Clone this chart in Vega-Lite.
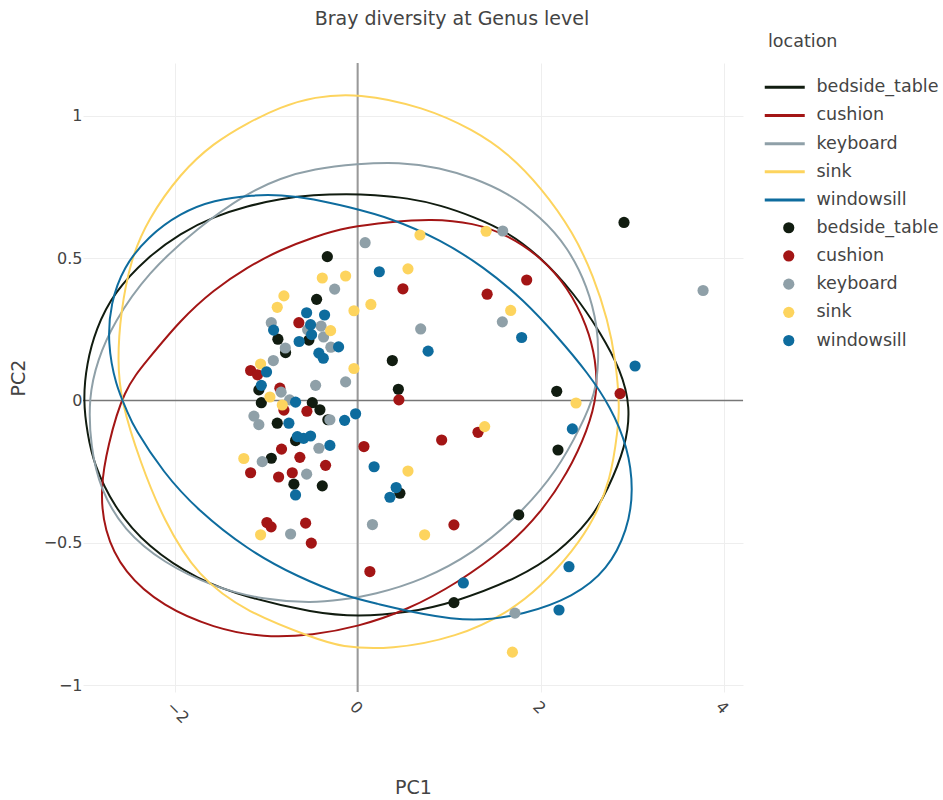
{
  "$schema": "https://vega.github.io/schema/vega-lite/v6.json",
  "width": 660,
  "height": 629,
  "autosize": "none",
  "padding": {"left": 83, "top": 63, "right": 200, "bottom": 108},
  "background": "white",
  "title": {"text": "Bray diversity at Genus level", "font": "DejaVu Sans", "fontSize": 19, "fontWeight": "normal", "color": "#444444", "anchor": "middle", "frame": "group", "dx": 39, "offset": 4},
  "config": {"view": {"stroke": null}, "font": "DejaVu Sans"},
  "datasets": {
    "pts": [
      {"location": "bedside_table", "PC1": -0.331, "PC2": 0.505},
      {"location": "bedside_table", "PC1": -0.448, "PC2": 0.355},
      {"location": "bedside_table", "PC1": -0.871, "PC2": 0.215},
      {"location": "bedside_table", "PC1": -0.532, "PC2": 0.212},
      {"location": "bedside_table", "PC1": -0.787, "PC2": 0.168},
      {"location": "bedside_table", "PC1": -1.079, "PC2": 0.037},
      {"location": "bedside_table", "PC1": -1.052, "PC2": -0.008},
      {"location": "bedside_table", "PC1": -0.495, "PC2": -0.008},
      {"location": "bedside_table", "PC1": -0.412, "PC2": -0.033},
      {"location": "bedside_table", "PC1": -0.878, "PC2": -0.08},
      {"location": "bedside_table", "PC1": -0.325, "PC2": -0.068},
      {"location": "bedside_table", "PC1": -0.678, "PC2": -0.141},
      {"location": "bedside_table", "PC1": -0.943, "PC2": -0.203},
      {"location": "bedside_table", "PC1": -0.696, "PC2": -0.294},
      {"location": "bedside_table", "PC1": -0.386, "PC2": -0.3},
      {"location": "bedside_table", "PC1": 0.379, "PC2": 0.14},
      {"location": "bedside_table", "PC1": 0.445, "PC2": 0.039},
      {"location": "bedside_table", "PC1": 0.462, "PC2": -0.326},
      {"location": "bedside_table", "PC1": 2.175, "PC2": 0.032},
      {"location": "bedside_table", "PC1": 2.189, "PC2": -0.174},
      {"location": "bedside_table", "PC1": 1.76, "PC2": -0.402},
      {"location": "bedside_table", "PC1": 1.052, "PC2": -0.71},
      {"location": "bedside_table", "PC1": 2.91, "PC2": 0.625},
      {"location": "cushion", "PC1": -0.642, "PC2": 0.273},
      {"location": "cushion", "PC1": -1.169, "PC2": 0.105},
      {"location": "cushion", "PC1": -1.093, "PC2": 0.09},
      {"location": "cushion", "PC1": -0.849, "PC2": 0.043},
      {"location": "cushion", "PC1": -0.805, "PC2": -0.034},
      {"location": "cushion", "PC1": -0.554, "PC2": -0.038},
      {"location": "cushion", "PC1": -0.831, "PC2": -0.171},
      {"location": "cushion", "PC1": -0.631, "PC2": -0.2},
      {"location": "cushion", "PC1": -0.35, "PC2": -0.228},
      {"location": "cushion", "PC1": -1.169, "PC2": -0.254},
      {"location": "cushion", "PC1": -0.863, "PC2": -0.269},
      {"location": "cushion", "PC1": -0.714, "PC2": -0.254},
      {"location": "cushion", "PC1": -0.991, "PC2": -0.429},
      {"location": "cushion", "PC1": -0.945, "PC2": -0.444},
      {"location": "cushion", "PC1": -0.568, "PC2": -0.431},
      {"location": "cushion", "PC1": -0.506, "PC2": -0.501},
      {"location": "cushion", "PC1": 0.069, "PC2": -0.162},
      {"location": "cushion", "PC1": 0.134, "PC2": -0.601},
      {"location": "cushion", "PC1": 0.495, "PC2": 0.392},
      {"location": "cushion", "PC1": 0.451, "PC2": 0.002},
      {"location": "cushion", "PC1": 1.415, "PC2": 0.373},
      {"location": "cushion", "PC1": 1.847, "PC2": 0.423},
      {"location": "cushion", "PC1": 0.918, "PC2": -0.139},
      {"location": "cushion", "PC1": 1.315, "PC2": -0.112},
      {"location": "cushion", "PC1": 1.052, "PC2": -0.437},
      {"location": "cushion", "PC1": 2.867, "PC2": 0.024},
      {"location": "keyboard", "PC1": 0.082, "PC2": 0.554},
      {"location": "keyboard", "PC1": -0.251, "PC2": 0.391},
      {"location": "keyboard", "PC1": -0.943, "PC2": 0.273},
      {"location": "keyboard", "PC1": -0.399, "PC2": 0.261},
      {"location": "keyboard", "PC1": -0.546, "PC2": 0.248},
      {"location": "keyboard", "PC1": -0.372, "PC2": 0.223},
      {"location": "keyboard", "PC1": -0.292, "PC2": 0.187},
      {"location": "keyboard", "PC1": -0.79, "PC2": 0.184},
      {"location": "keyboard", "PC1": -0.921, "PC2": 0.14},
      {"location": "keyboard", "PC1": -0.131, "PC2": 0.065},
      {"location": "keyboard", "PC1": -0.459, "PC2": 0.053},
      {"location": "keyboard", "PC1": -0.836, "PC2": 0.029},
      {"location": "keyboard", "PC1": -0.743, "PC2": 0.002},
      {"location": "keyboard", "PC1": -1.133, "PC2": -0.055},
      {"location": "keyboard", "PC1": -1.079, "PC2": -0.085},
      {"location": "keyboard", "PC1": -0.303, "PC2": -0.068},
      {"location": "keyboard", "PC1": -0.423, "PC2": -0.168},
      {"location": "keyboard", "PC1": -1.042, "PC2": -0.215},
      {"location": "keyboard", "PC1": -0.557, "PC2": -0.259},
      {"location": "keyboard", "PC1": -0.732, "PC2": -0.469},
      {"location": "keyboard", "PC1": 0.162, "PC2": -0.436},
      {"location": "keyboard", "PC1": 0.689, "PC2": 0.251},
      {"location": "keyboard", "PC1": 1.581, "PC2": 0.276},
      {"location": "keyboard", "PC1": 1.585, "PC2": 0.595},
      {"location": "keyboard", "PC1": 3.774, "PC2": 0.386},
      {"location": "keyboard", "PC1": 1.719, "PC2": -0.747},
      {"location": "sink", "PC1": -0.386, "PC2": 0.43},
      {"location": "sink", "PC1": -0.131, "PC2": 0.437},
      {"location": "sink", "PC1": -0.805, "PC2": 0.367},
      {"location": "sink", "PC1": -0.878, "PC2": 0.327},
      {"location": "sink", "PC1": -0.04, "PC2": 0.315},
      {"location": "sink", "PC1": 0.145, "PC2": 0.337},
      {"location": "sink", "PC1": -0.295, "PC2": 0.245},
      {"location": "sink", "PC1": -0.04, "PC2": 0.112},
      {"location": "sink", "PC1": -1.06, "PC2": 0.128},
      {"location": "sink", "PC1": -0.958, "PC2": 0.012},
      {"location": "sink", "PC1": -0.823, "PC2": -0.016},
      {"location": "sink", "PC1": -1.243, "PC2": -0.204},
      {"location": "sink", "PC1": -1.06, "PC2": -0.472},
      {"location": "sink", "PC1": 0.681, "PC2": 0.581},
      {"location": "sink", "PC1": 1.404, "PC2": 0.594},
      {"location": "sink", "PC1": 0.55, "PC2": 0.462},
      {"location": "sink", "PC1": 1.672, "PC2": 0.316},
      {"location": "sink", "PC1": 2.386, "PC2": -0.009},
      {"location": "sink", "PC1": 1.388, "PC2": -0.092},
      {"location": "sink", "PC1": 0.55, "PC2": -0.248},
      {"location": "sink", "PC1": 0.732, "PC2": -0.472},
      {"location": "sink", "PC1": 1.691, "PC2": -0.884},
      {"location": "windowsill", "PC1": 0.237, "PC2": 0.452},
      {"location": "windowsill", "PC1": -0.557, "PC2": 0.308},
      {"location": "windowsill", "PC1": -0.361, "PC2": 0.3},
      {"location": "windowsill", "PC1": -0.514, "PC2": 0.266},
      {"location": "windowsill", "PC1": -0.918, "PC2": 0.247},
      {"location": "windowsill", "PC1": -0.503, "PC2": 0.231},
      {"location": "windowsill", "PC1": -0.639, "PC2": 0.207},
      {"location": "windowsill", "PC1": -0.208, "PC2": 0.188},
      {"location": "windowsill", "PC1": -0.423, "PC2": 0.166},
      {"location": "windowsill", "PC1": -0.375, "PC2": 0.148},
      {"location": "windowsill", "PC1": -0.995, "PC2": 0.1},
      {"location": "windowsill", "PC1": -1.052, "PC2": 0.053},
      {"location": "windowsill", "PC1": -0.678, "PC2": -0.006},
      {"location": "windowsill", "PC1": -0.751, "PC2": -0.08},
      {"location": "windowsill", "PC1": -0.142, "PC2": -0.07},
      {"location": "windowsill", "PC1": -0.022, "PC2": -0.047},
      {"location": "windowsill", "PC1": -0.659, "PC2": -0.127},
      {"location": "windowsill", "PC1": -0.59, "PC2": -0.133},
      {"location": "windowsill", "PC1": -0.514, "PC2": -0.125},
      {"location": "windowsill", "PC1": -0.303, "PC2": -0.158},
      {"location": "windowsill", "PC1": -0.678, "PC2": -0.332},
      {"location": "windowsill", "PC1": 0.18, "PC2": -0.233},
      {"location": "windowsill", "PC1": 0.77, "PC2": 0.173},
      {"location": "windowsill", "PC1": 1.792, "PC2": 0.221},
      {"location": "windowsill", "PC1": 3.031, "PC2": 0.121},
      {"location": "windowsill", "PC1": 2.346, "PC2": -0.1},
      {"location": "windowsill", "PC1": 0.421, "PC2": -0.306},
      {"location": "windowsill", "PC1": 0.353, "PC2": -0.34},
      {"location": "windowsill", "PC1": 1.155, "PC2": -0.641},
      {"location": "windowsill", "PC1": 2.309, "PC2": -0.584},
      {"location": "windowsill", "PC1": 2.2, "PC2": -0.736}
    ],
    "ell": [
      {"location": "bedside_table", "i": 1, "PC1": -3.0, "PC2": 0.0},
      {"location": "bedside_table", "i": 2, "PC1": -2.96, "PC2": 0.13},
      {"location": "bedside_table", "i": 3, "PC1": -2.86, "PC2": 0.25},
      {"location": "bedside_table", "i": 4, "PC1": -2.667, "PC2": 0.378},
      {"location": "bedside_table", "i": 5, "PC1": -2.295, "PC2": 0.504},
      {"location": "bedside_table", "i": 6, "PC1": -1.934, "PC2": 0.588},
      {"location": "bedside_table", "i": 7, "PC1": -1.574, "PC2": 0.645},
      {"location": "bedside_table", "i": 8, "PC1": -1.202, "PC2": 0.683},
      {"location": "bedside_table", "i": 9, "PC1": -0.842, "PC2": 0.708},
      {"location": "bedside_table", "i": 10, "PC1": -0.481, "PC2": 0.722},
      {"location": "bedside_table", "i": 11, "PC1": -0.109, "PC2": 0.725},
      {"location": "bedside_table", "i": 12, "PC1": 0.175, "PC2": 0.722},
      {"location": "bedside_table", "i": 13, "PC1": 0.546, "PC2": 0.711},
      {"location": "bedside_table", "i": 14, "PC1": 0.907, "PC2": 0.686},
      {"location": "bedside_table", "i": 15, "PC1": 1.268, "PC2": 0.645},
      {"location": "bedside_table", "i": 16, "PC1": 1.639, "PC2": 0.592},
      {"location": "bedside_table", "i": 17, "PC1": 2.0, "PC2": 0.504},
      {"location": "bedside_table", "i": 18, "PC1": 2.361, "PC2": 0.378},
      {"location": "bedside_table", "i": 19, "PC1": 2.656, "PC2": 0.237},
      {"location": "bedside_table", "i": 20, "PC1": 2.874, "PC2": 0.107},
      {"location": "bedside_table", "i": 21, "PC1": 2.984, "PC2": -0.023},
      {"location": "bedside_table", "i": 22, "PC1": 2.929, "PC2": -0.163},
      {"location": "bedside_table", "i": 23, "PC1": 2.732, "PC2": -0.314},
      {"location": "bedside_table", "i": 24, "PC1": 2.546, "PC2": -0.42},
      {"location": "bedside_table", "i": 25, "PC1": 2.186, "PC2": -0.536},
      {"location": "bedside_table", "i": 26, "PC1": 1.781, "PC2": -0.62},
      {"location": "bedside_table", "i": 27, "PC1": 1.049, "PC2": -0.711},
      {"location": "bedside_table", "i": 28, "PC1": 0.546, "PC2": -0.746},
      {"location": "bedside_table", "i": 29, "PC1": 0.0, "PC2": -0.76},
      {"location": "bedside_table", "i": 30, "PC1": -0.481, "PC2": -0.746},
      {"location": "bedside_table", "i": 31, "PC1": -1.202, "PC2": -0.693},
      {"location": "bedside_table", "i": 32, "PC1": -1.749, "PC2": -0.63},
      {"location": "bedside_table", "i": 33, "PC1": -2.295, "PC2": -0.515},
      {"location": "bedside_table", "i": 34, "PC1": -2.667, "PC2": -0.374},
      {"location": "bedside_table", "i": 35, "PC1": -2.885, "PC2": -0.22},
      {"location": "bedside_table", "i": 36, "PC1": -2.95, "PC2": -0.12},
      {"location": "cushion", "i": 1, "PC1": -2.557, "PC2": 0.039},
      {"location": "cushion", "i": 2, "PC1": -2.295, "PC2": 0.142},
      {"location": "cushion", "i": 3, "PC1": -1.934, "PC2": 0.283},
      {"location": "cushion", "i": 4, "PC1": -1.574, "PC2": 0.388},
      {"location": "cushion", "i": 5, "PC1": -1.202, "PC2": 0.469},
      {"location": "cushion", "i": 6, "PC1": -0.842, "PC2": 0.529},
      {"location": "cushion", "i": 7, "PC1": -0.481, "PC2": 0.574},
      {"location": "cushion", "i": 8, "PC1": -0.109, "PC2": 0.609},
      {"location": "cushion", "i": 9, "PC1": 0.361, "PC2": 0.627},
      {"location": "cushion", "i": 10, "PC1": 0.798, "PC2": 0.638},
      {"location": "cushion", "i": 11, "PC1": 1.268, "PC2": 0.624},
      {"location": "cushion", "i": 12, "PC1": 1.639, "PC2": 0.581},
      {"location": "cushion", "i": 13, "PC1": 2.0, "PC2": 0.504},
      {"location": "cushion", "i": 14, "PC1": 2.295, "PC2": 0.399},
      {"location": "cushion", "i": 15, "PC1": 2.514, "PC2": 0.258},
      {"location": "cushion", "i": 16, "PC1": 2.601, "PC2": 0.142},
      {"location": "cushion", "i": 17, "PC1": 2.623, "PC2": 0.026},
      {"location": "cushion", "i": 18, "PC1": 2.514, "PC2": -0.104},
      {"location": "cushion", "i": 19, "PC1": 2.295, "PC2": -0.255},
      {"location": "cushion", "i": 20, "PC1": 2.0, "PC2": -0.395},
      {"location": "cushion", "i": 21, "PC1": 1.639, "PC2": -0.515},
      {"location": "cushion", "i": 22, "PC1": 1.093, "PC2": -0.641},
      {"location": "cushion", "i": 23, "PC1": 0.546, "PC2": -0.736},
      {"location": "cushion", "i": 24, "PC1": 0.0, "PC2": -0.795},
      {"location": "cushion", "i": 25, "PC1": -0.481, "PC2": -0.824},
      {"location": "cushion", "i": 26, "PC1": -1.027, "PC2": -0.834},
      {"location": "cushion", "i": 27, "PC1": -1.574, "PC2": -0.799},
      {"location": "cushion", "i": 28, "PC1": -2.12, "PC2": -0.725},
      {"location": "cushion", "i": 29, "PC1": -2.557, "PC2": -0.606},
      {"location": "cushion", "i": 30, "PC1": -2.776, "PC2": -0.455},
      {"location": "cushion", "i": 31, "PC1": -2.809, "PC2": -0.304},
      {"location": "cushion", "i": 32, "PC1": -2.732, "PC2": -0.163},
      {"location": "keyboard", "i": 1, "PC1": -2.94, "PC2": 0.01},
      {"location": "keyboard", "i": 2, "PC1": -2.842, "PC2": 0.142},
      {"location": "keyboard", "i": 3, "PC1": -2.667, "PC2": 0.272},
      {"location": "keyboard", "i": 4, "PC1": -2.295, "PC2": 0.448},
      {"location": "keyboard", "i": 5, "PC1": -1.749, "PC2": 0.606},
      {"location": "keyboard", "i": 6, "PC1": -1.202, "PC2": 0.729},
      {"location": "keyboard", "i": 7, "PC1": -0.842, "PC2": 0.781},
      {"location": "keyboard", "i": 8, "PC1": -0.481, "PC2": 0.813},
      {"location": "keyboard", "i": 9, "PC1": 0.0, "PC2": 0.831},
      {"location": "keyboard", "i": 10, "PC1": 0.448, "PC2": 0.838},
      {"location": "keyboard", "i": 11, "PC1": 0.907, "PC2": 0.817},
      {"location": "keyboard", "i": 12, "PC1": 1.268, "PC2": 0.781},
      {"location": "keyboard", "i": 13, "PC1": 1.639, "PC2": 0.729},
      {"location": "keyboard", "i": 14, "PC1": 2.0, "PC2": 0.645},
      {"location": "keyboard", "i": 15, "PC1": 2.295, "PC2": 0.539},
      {"location": "keyboard", "i": 16, "PC1": 2.514, "PC2": 0.399},
      {"location": "keyboard", "i": 17, "PC1": 2.623, "PC2": 0.258},
      {"location": "keyboard", "i": 18, "PC1": 2.634, "PC2": 0.142},
      {"location": "keyboard", "i": 19, "PC1": 2.601, "PC2": 0.026},
      {"location": "keyboard", "i": 20, "PC1": 2.437, "PC2": -0.093},
      {"location": "keyboard", "i": 21, "PC1": 2.186, "PC2": -0.244},
      {"location": "keyboard", "i": 22, "PC1": 1.77, "PC2": -0.402},
      {"location": "keyboard", "i": 23, "PC1": 1.268, "PC2": -0.536},
      {"location": "keyboard", "i": 24, "PC1": 0.721, "PC2": -0.63},
      {"location": "keyboard", "i": 25, "PC1": 0.175, "PC2": -0.683},
      {"location": "keyboard", "i": 26, "PC1": -0.186, "PC2": -0.7},
      {"location": "keyboard", "i": 27, "PC1": -0.481, "PC2": -0.711},
      {"location": "keyboard", "i": 28, "PC1": -1.027, "PC2": -0.701},
      {"location": "keyboard", "i": 29, "PC1": -1.574, "PC2": -0.655},
      {"location": "keyboard", "i": 30, "PC1": -2.12, "PC2": -0.571},
      {"location": "keyboard", "i": 31, "PC1": -2.557, "PC2": -0.455},
      {"location": "keyboard", "i": 32, "PC1": -2.809, "PC2": -0.314},
      {"location": "keyboard", "i": 33, "PC1": -2.918, "PC2": -0.163},
      {"location": "sink", "i": 1, "PC1": -2.59, "PC2": 0.002},
      {"location": "sink", "i": 2, "PC1": -2.623, "PC2": 0.142},
      {"location": "sink", "i": 3, "PC1": -2.59, "PC2": 0.307},
      {"location": "sink", "i": 4, "PC1": -2.481, "PC2": 0.493},
      {"location": "sink", "i": 5, "PC1": -2.295, "PC2": 0.634},
      {"location": "sink", "i": 6, "PC1": -1.934, "PC2": 0.799},
      {"location": "sink", "i": 7, "PC1": -1.574, "PC2": 0.904},
      {"location": "sink", "i": 8, "PC1": -1.202, "PC2": 0.975},
      {"location": "sink", "i": 9, "PC1": -0.842, "PC2": 1.031},
      {"location": "sink", "i": 10, "PC1": -0.481, "PC2": 1.066},
      {"location": "sink", "i": 11, "PC1": 0.0, "PC2": 1.08},
      {"location": "sink", "i": 12, "PC1": 0.721, "PC2": 1.031},
      {"location": "sink", "i": 13, "PC1": 1.268, "PC2": 0.95},
      {"location": "sink", "i": 14, "PC1": 1.639, "PC2": 0.869},
      {"location": "sink", "i": 15, "PC1": 2.0, "PC2": 0.75},
      {"location": "sink", "i": 16, "PC1": 2.361, "PC2": 0.588},
      {"location": "sink", "i": 17, "PC1": 2.579, "PC2": 0.434},
      {"location": "sink", "i": 18, "PC1": 2.732, "PC2": 0.283},
      {"location": "sink", "i": 19, "PC1": 2.82, "PC2": 0.142},
      {"location": "sink", "i": 20, "PC1": 2.863, "PC2": -0.023},
      {"location": "sink", "i": 21, "PC1": 2.842, "PC2": -0.104},
      {"location": "sink", "i": 22, "PC1": 2.765, "PC2": -0.279},
      {"location": "sink", "i": 23, "PC1": 2.579, "PC2": -0.42},
      {"location": "sink", "i": 24, "PC1": 2.361, "PC2": -0.525},
      {"location": "sink", "i": 25, "PC1": 2.0, "PC2": -0.655},
      {"location": "sink", "i": 26, "PC1": 1.639, "PC2": -0.746},
      {"location": "sink", "i": 27, "PC1": 1.093, "PC2": -0.831},
      {"location": "sink", "i": 28, "PC1": 0.361, "PC2": -0.876},
      {"location": "sink", "i": 29, "PC1": -0.186, "PC2": -0.866},
      {"location": "sink", "i": 30, "PC1": -0.481, "PC2": -0.834},
      {"location": "sink", "i": 31, "PC1": -1.202, "PC2": -0.746},
      {"location": "sink", "i": 32, "PC1": -1.749, "PC2": -0.62},
      {"location": "sink", "i": 33, "PC1": -2.12, "PC2": -0.42},
      {"location": "sink", "i": 34, "PC1": -2.372, "PC2": -0.22},
      {"location": "windowsill", "i": 1, "PC1": -2.645, "PC2": 0.054},
      {"location": "windowsill", "i": 2, "PC1": -2.732, "PC2": 0.202},
      {"location": "windowsill", "i": 3, "PC1": -2.699, "PC2": 0.342},
      {"location": "windowsill", "i": 4, "PC1": -2.557, "PC2": 0.469},
      {"location": "windowsill", "i": 5, "PC1": -2.295, "PC2": 0.574},
      {"location": "windowsill", "i": 6, "PC1": -1.934, "PC2": 0.659},
      {"location": "windowsill", "i": 7, "PC1": -1.574, "PC2": 0.704},
      {"location": "windowsill", "i": 8, "PC1": -1.137, "PC2": 0.722},
      {"location": "windowsill", "i": 9, "PC1": -0.842, "PC2": 0.722},
      {"location": "windowsill", "i": 10, "PC1": -0.481, "PC2": 0.708},
      {"location": "windowsill", "i": 11, "PC1": -0.109, "PC2": 0.68},
      {"location": "windowsill", "i": 12, "PC1": 0.361, "PC2": 0.641},
      {"location": "windowsill", "i": 13, "PC1": 0.907, "PC2": 0.564},
      {"location": "windowsill", "i": 14, "PC1": 1.377, "PC2": 0.469},
      {"location": "windowsill", "i": 15, "PC1": 1.814, "PC2": 0.353},
      {"location": "windowsill", "i": 16, "PC1": 2.186, "PC2": 0.223},
      {"location": "windowsill", "i": 17, "PC1": 2.514, "PC2": 0.097},
      {"location": "windowsill", "i": 18, "PC1": 2.765, "PC2": -0.023},
      {"location": "windowsill", "i": 19, "PC1": 2.951, "PC2": -0.163},
      {"location": "windowsill", "i": 20, "PC1": 3.016, "PC2": -0.314},
      {"location": "windowsill", "i": 21, "PC1": 2.951, "PC2": -0.455},
      {"location": "windowsill", "i": 22, "PC1": 2.732, "PC2": -0.595},
      {"location": "windowsill", "i": 23, "PC1": 2.361, "PC2": -0.69},
      {"location": "windowsill", "i": 24, "PC1": 1.814, "PC2": -0.753},
      {"location": "windowsill", "i": 25, "PC1": 1.268, "PC2": -0.778},
      {"location": "windowsill", "i": 26, "PC1": 0.721, "PC2": -0.753},
      {"location": "windowsill", "i": 27, "PC1": 0.175, "PC2": -0.711},
      {"location": "windowsill", "i": 28, "PC1": -0.109, "PC2": -0.69},
      {"location": "windowsill", "i": 29, "PC1": -0.656, "PC2": -0.62},
      {"location": "windowsill", "i": 30, "PC1": -1.202, "PC2": -0.525},
      {"location": "windowsill", "i": 31, "PC1": -1.749, "PC2": -0.385},
      {"location": "windowsill", "i": 32, "PC1": -2.12, "PC2": -0.255},
      {"location": "windowsill", "i": 33, "PC1": -2.448, "PC2": -0.093},
      {"location": "windowsill", "i": 34, "PC1": -2.514, "PC2": -0.04}
    ]
  },
  "layer": [
    {
      "data": {"values": [{"PC1": 0}]},
      "mark": {"type": "rule", "color": "#999999", "strokeWidth": 2},
      "encoding": {
        "x": {"field": "PC1", "type": "quantitative", "scale": {"domain": [-3.0, 4.21], "nice": false, "zero": false},
          "axis": {"title": "PC1", "values": [-2, 0, 2, 4], "labelAngle": 45, "labelExpr": "replace(toString(datum.value), '-', '−')", "grid": true, "gridColor": "#eeeeee", "domain": false, "ticks": false, "labelFont": "DejaVu Sans", "labelFontSize": 16, "labelColor": "#444444", "labelPadding": 6, "titleFont": "DejaVu Sans", "titleFontSize": 19, "titleFontWeight": "normal", "titleColor": "#444444", "titleX": 330, "titleY": 95, "titleBaseline": "middle"}}
      }
    },
    {
      "data": {"values": [{"PC2": 0}]},
      "mark": {"type": "rule", "color": "#777777", "strokeWidth": 1.5},
      "encoding": {
        "y": {"field": "PC2", "type": "quantitative", "scale": {"domain": [-1.024, 1.185], "nice": false, "zero": false},
          "axis": {"title": "PC2", "values": [-1, -0.5, 0, 0.5, 1], "labelExpr": "replace(toString(datum.value), '-', '−')", "grid": true, "gridColor": "#eeeeee", "domain": false, "ticks": false, "labelFont": "DejaVu Sans", "labelFontSize": 16, "labelColor": "#444444", "labelPadding": 1, "titleFont": "DejaVu Sans", "titleFontSize": 19, "titleFontWeight": "normal", "titleColor": "#444444", "titleX": -65, "titleY": 314.5, "titleBaseline": "middle", "titleAngle": -90, "titleAlign": "center"}}
      }
    },
    {
      "data": {"name": "ell"},
      "mark": {"type": "line", "interpolate": "basis-closed", "strokeWidth": 2, "clip": true},
      "encoding": {
        "x": {"field": "PC1", "type": "quantitative", "scale": {"domain": [-3.0, 4.21], "nice": false, "zero": false},
          "axis": {"title": "PC1", "values": [-2, 0, 2, 4], "labelAngle": 45, "labelExpr": "replace(toString(datum.value), '-', '−')", "grid": true, "gridColor": "#eeeeee", "domain": false, "ticks": false, "labelFont": "DejaVu Sans", "labelFontSize": 16, "labelColor": "#444444", "labelPadding": 6, "titleFont": "DejaVu Sans", "titleFontSize": 19, "titleFontWeight": "normal", "titleColor": "#444444", "titleX": 330, "titleY": 95, "titleBaseline": "middle"}},
        "y": {"field": "PC2", "type": "quantitative", "scale": {"domain": [-1.024, 1.185], "nice": false, "zero": false},
          "axis": {"title": "PC2", "values": [-1, -0.5, 0, 0.5, 1], "labelExpr": "replace(toString(datum.value), '-', '−')", "grid": true, "gridColor": "#eeeeee", "domain": false, "ticks": false, "labelFont": "DejaVu Sans", "labelFontSize": 16, "labelColor": "#444444", "labelPadding": 1, "titleFont": "DejaVu Sans", "titleFontSize": 19, "titleFontWeight": "normal", "titleColor": "#444444", "titleX": -65, "titleY": 314.5, "titleBaseline": "middle", "titleAngle": -90, "titleAlign": "center"}},
        "order": {"field": "i", "type": "quantitative"},
        "color": {
          "field": "location", "type": "nominal",
          "scale": {"domain": ["bedside_table", "cushion", "keyboard", "sink", "windowsill"], "range": ["#111c10", "#a31515", "#8fa0a8", "#fdd45e", "#0e6c9e"]},
          "legend": {"title": "location", "orient": "none", "legendX": 685, "legendY": -30, "padding": 0, "symbolType": "M-2.4,0H5.6", "symbolSize": 100, "symbolStrokeWidth": 3, "labelFont": "DejaVu Sans", "labelFontSize": 17.5, "labelColor": "#444444", "labelOffset": 31, "rowPadding": 9.2, "titleFont": "DejaVu Sans", "titleFontSize": 17.5, "titleFontWeight": "normal", "titleColor": "#444444", "titlePadding": 28}
        }
      }
    },
    {
      "data": {"name": "pts"},
      "mark": {"type": "point", "filled": true, "opacity": 1, "size": 125, "strokeWidth": 0},
      "encoding": {
        "x": {"field": "PC1", "type": "quantitative", "scale": {"domain": [-3.0, 4.21], "nice": false, "zero": false},
          "axis": {"title": "PC1", "values": [-2, 0, 2, 4], "labelAngle": 45, "labelExpr": "replace(toString(datum.value), '-', '−')", "grid": true, "gridColor": "#eeeeee", "domain": false, "ticks": false, "labelFont": "DejaVu Sans", "labelFontSize": 16, "labelColor": "#444444", "labelPadding": 6, "titleFont": "DejaVu Sans", "titleFontSize": 19, "titleFontWeight": "normal", "titleColor": "#444444", "titleX": 330, "titleY": 95, "titleBaseline": "middle"}},
        "y": {"field": "PC2", "type": "quantitative", "scale": {"domain": [-1.024, 1.185], "nice": false, "zero": false},
          "axis": {"title": "PC2", "values": [-1, -0.5, 0, 0.5, 1], "labelExpr": "replace(toString(datum.value), '-', '−')", "grid": true, "gridColor": "#eeeeee", "domain": false, "ticks": false, "labelFont": "DejaVu Sans", "labelFontSize": 16, "labelColor": "#444444", "labelPadding": 1, "titleFont": "DejaVu Sans", "titleFontSize": 19, "titleFontWeight": "normal", "titleColor": "#444444", "titleX": -65, "titleY": 314.5, "titleBaseline": "middle", "titleAngle": -90, "titleAlign": "center"}},
        "color": {
          "field": "location", "type": "nominal",
          "scale": {"domain": ["bedside_table", "cushion", "keyboard", "sink", "windowsill"], "range": ["#111c10", "#a31515", "#8fa0a8", "#fdd45e", "#0e6c9e"]},
          "legend": {"title": null, "orient": "none", "legendX": 697, "legendY": 156, "padding": 0, "symbolType": "circle", "symbolSize": 125, "symbolStrokeWidth": 0, "labelFont": "DejaVu Sans", "labelFontSize": 17.5, "labelColor": "#444444", "labelOffset": 19, "rowPadding": 9.2}
        }
      }
    }
  ],
  "resolve": {"scale": {"color": "independent"}}
}
